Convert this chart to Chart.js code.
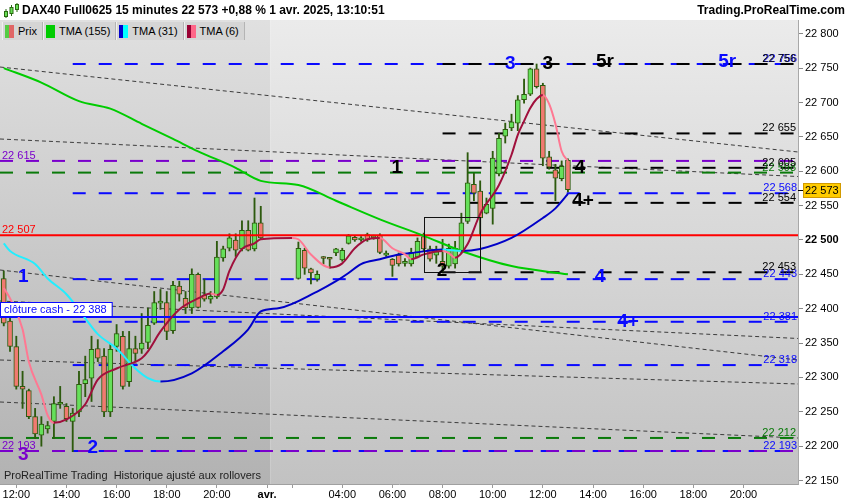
<!DOCTYPE html>
<html>
<head>
<meta charset="utf-8">
<title>DAX40 Full0625 15 minutes</title>
<script src="https://cdn.jsdelivr.net/npm/chart.js@4.4.1/dist/chart.umd.min.js"></script>
<style>
  html, body { margin: 0; padding: 0; background: #fff; }
  body { font-family: "Liberation Sans", Arial, sans-serif; }
  #wrap { position: relative; width: 850px; height: 500px; overflow: hidden; }
  #box { position: absolute; left: 0; top: 0; width: 850px; height: 500px; }
  .head { position: absolute; top: 3px; font-size: 12px; font-weight: bold; color: #000; white-space: nowrap; }
  #icon { position: absolute; left: 3px; top: 2px; }
  #legend { position: absolute; left: 2px; top: 22px; height: 18px; display: flex; }
  #legend div { display: flex; align-items: center; height: 18px; padding: 0 5px 0 2px; background: #d5d5d5;
    border-left: 1px solid #f0f0f0; border-right: 1px solid #b4b4b4; font-size: 11px; color: #000; }
  #legend i { display: inline-block; width: 9px; height: 13px; margin-right: 4px; }
  #note { position: absolute; left: 4px; top: 469px; font-size: 11px; color: #222; white-space: nowrap; }
</style>
</head>
<body>
<div id="wrap">
  <div id="box"><canvas id="chart"></canvas></div>
  <svg id="icon" width="17" height="17">
    <line x1="3" y1="7" x2="3" y2="16" stroke="#2a6a10"/>
    <rect x="1.5" y="9.5" width="3" height="5" fill="#66dd55" stroke="#2a6a10"/>
    <line x1="8.5" y1="3" x2="8.5" y2="14" stroke="#2a6a10"/>
    <rect x="7" y="5.5" width="3" height="6" fill="#66dd55" stroke="#2a6a10"/>
    <line x1="14" y1="1" x2="14" y2="10" stroke="#2a6a10"/>
    <rect x="12.5" y="2.5" width="3" height="5" fill="#66dd55" stroke="#2a6a10"/>
  </svg>
  <div class="head" style="left:22px">DAX40 Full0625 15 minutes 22 573 +0,88 % 1 avr. 2025, 13:10:51</div>
  <div class="head" style="right:5px">Trading.ProRealTime.com</div>
  <div id="legend">
    <div><i style="background:linear-gradient(90deg,#55cc44 50%,#e06666 50%)"></i>Prix</div>
    <div><i style="background:#00cc00"></i>TMA (155)</div>
    <div><i style="background:linear-gradient(90deg,#0000cc 50%,#00ffff 50%)"></i>TMA (31)</div>
    <div><i style="background:linear-gradient(90deg,#990033 50%,#ff6688 50%)"></i>TMA (6)</div>
  </div>
  <div id="note">ProRealTime Trading&nbsp; Historique ajusté aux rollovers</div>
</div>

<script>
Chart.defaults.font.family = '"Liberation Sans", Arial, sans-serif';

// 15 minute bars: 31 March from 11:30, 1 April from 01:00
const sessionStarts = ["11:30", "01:00"];
const sessionBars = [42, 85];
const dayBreak = 42.5;
const dayLabel = "avr.";
const xTicks = [2, 10, 18, 26, 34, 42, 46, 54, 62, 70, 78, 86, 94, 102, 110, 118];
const xTicksBlank = [46];
const priceTicks = [22150, 22200, 22250, 22300, 22350, 22400, 22450, 22500, 22550, 22600, 22650, 22700, 22750, 22800];

// candles (null = no bar)
const opens = [22444, 22382, 22345, 22287, 22281, 22243, 22216, 22225, 22236, 22261,
  22258, 22236, 22250, 22291, 22299, 22342, 22331, 22250, 22345, 22360,
  22294, 22342, 22341, 22351, 22379, 22408, 22409, 22368, 22433, 22415,
  22401, 22450, 22420, 22414, 22417, 22474, 22488, 22500, 22487, 22514,
  22487, 22525, null, null, null, null, null,
  22444, 22485, 22458, 22443, 22475, 22474, 22481, 22471, 22495, 22504,
  22500, 22508, 22503, 22507, 22478, 22472, 22478, 22466, 22465, 22475,
  22505, 22487, 22478, 22469, 22462, 22465, 22484, 22527, 22581, 22571,
  22539, 22546, 22596, 22651, 22663, 22670, 22704, 22712, 22749, 22725,
  22621, 22602, 22589, 22616];
const highs = [22455, 22389, 22360, 22309, 22283, 22255, 22243, 22236, 22272, 22287,
  22262, 22255, 22309, 22331, 22360, 22355, 22342, 22348, 22377, 22367,
  22367, 22360, 22393, 22401, 22425, 22428, 22425, 22440, 22440, 22425,
  22458, 22452, 22443, 22425, 22498, 22491, 22509, 22509, 22528, 22528,
  22561, 22549, null, null, null, null, null,
  22497, 22488, 22459, 22455, 22476, 22474, 22488, 22488, 22508, 22506,
  22505, 22510, 22507, 22509, 22484, 22473, 22481, 22473, 22488, 22503,
  22510, 22491, 22491, 22501, 22494, 22498, 22539, 22627, 22597, 22586,
  22561, 22629, 22655, 22670, 22683, 22710, 22734, 22750, 22756, 22728,
  22629, 22610, 22615, 22618];
const lows = [22375, 22338, 22283, 22255, 22240, 22211, 22200, 22219, 22211, 22255,
  22236, 22192, 22243, 22272, 22265, 22323, 22243, 22243, 22338, 22283,
  22287, 22323, 22335, 22342, 22377, 22399, 22355, 22364, 22411, 22393,
  22393, 22401, 22411, 22408, 22415, 22469, 22484, 22476, 22484, 22484,
  22484, 22501, null, null, null, null, null,
  22443, 22450, 22436, 22440, 22465, 22459, 22477, 22469, 22494, 22498,
  22498, 22498, 22501, 22480, 22476, 22447, 22462, 22462, 22462, 22474,
  22484, 22469, 22466, 22452, 22459, 22459, 22481, 22524, 22557, 22508,
  22538, 22523, 22593, 22641, 22659, 22659, 22699, 22710, 22721, 22608,
  22603, 22557, 22586, 22570];
const closes = [22379, 22345, 22287, 22283, 22243, 22218, 22232, 22230, 22262, 22262,
  22240, 22248, 22290, 22297, 22341, 22328, 22250, 22341, 22364, 22287,
  22342, 22335, 22350, 22376, 22409, 22411, 22367, 22434, 22421, 22401,
  22450, 22402, 22414, 22418, 22475, 22487, 22503, 22485, 22514, 22485,
  22525, 22503, null, null, null, null, null,
  22488, 22459, 22452, 22450, 22473, 22472, 22487, 22485, 22506, 22500,
  22503, 22500, 22505, 22482, 22481, 22463, 22465, 22469, 22482, 22498,
  22487, 22472, 22483, 22462, 22488, 22488, 22525, 22583, 22568, 22532,
  22552, 22619, 22648, 22661, 22672, 22704, 22712, 22749, 22723, 22619,
  22606, 22590, 22607, 22573];

// moving averages: [bar, value]
const tma155 = [[0, 22750], [6, 22729], [12, 22702], [17, 22691], [22, 22669], [27, 22647], [31, 22629],
  [37, 22605], [41, 22586], [47, 22580], [53, 22557], [60, 22530], [67, 22506], [73, 22484], [81, 22462], [90, 22450]];
const tma31 = [[0, 22495], [1, 22484], [5, 22465], [7, 22444], [10, 22421], [13, 22386], [15, 22363], [18, 22342],
  [21, 22313], [23, 22299], [25, 22294], [30, 22306], [35, 22338], [39, 22370], [41, 22396], [44, 22401],
  [50, 22425], [53, 22440], [55, 22452], [57, 22465], [60, 22472], [63, 22479], [65, 22481], [70, 22486],
  [73, 22484], [76, 22487], [81, 22503], [86, 22532], [88, 22546], [90, 22567]];
const tma6 = [[0, 22430], [1, 22415], [3, 22370], [4, 22323], [6, 22275], [7, 22245], [8, 22234], [10, 22239],
  [13, 22261], [15, 22297], [18, 22313], [22, 22328], [23, 22338], [25, 22367], [28, 22399], [31, 22415],
  [33, 22422], [34, 22420], [35, 22428], [36, 22455], [38, 22487], [40, 22495], [41, 22501], [46, 22503],
  [47, 22501], [49, 22479], [52, 22460], [54, 22466], [56, 22488], [58, 22501], [60, 22503], [62, 22488],
  [64, 22479], [65, 22472], [67, 22479], [70, 22484], [71, 22481], [72, 22474], [74, 22494], [76, 22538],
  [79, 22580], [81, 22624], [82, 22653], [83, 22673], [84, 22692], [85, 22705], [86, 22711], [87, 22698],
  [88, 22669], [89, 22629], [90, 22615]];

// horizontal levels
const blueLevels = [22756, 22568, 22443, 22381, 22318, 22193];
const blackLevels = [22756, 22655, 22605, 22554, 22453];
const greenLevels = [22598, 22212];
const purpleLevels = [22615, 22193];
const redLevel = 22507;
const cashClose = 22388;
const lastPrice = 22573;
const blueFrom = 11;
const blackFrom = 70;

// sloping trend lines, price at the left and right edge
const trendStarts = [22751.6, 22646.9, 22456.3, 22411.2, 22325.4, 22264.3];
const trendEnds = [22628.0, 22592.3, 22325.4, 22356.7, 22290.5, 22211.9];

// marked zone and wave labels
const zoneBars = [67, 76];
const zonePrices = [22533, 22453];
const notes = [
  ["1", 3.1, 22446, "blue"], ["2", 14.2, 22197, "blue"], ["3", 3.1, 22187, "purple"],
  ["3", 80.8, 22757, "blue"], ["3", 86.8, 22757, "black"], ["5r", 95.9, 22759, "black"], ["5r", 115.4, 22759, "blue"],
  ["1", 62.7, 22605, "black"], ["2", 69.9, 22455, "black"], ["4", 91.9, 22605, "black"], ["4+", 92.4, 22557, "black"],
  ["4", 95.1, 22446, "blue"], ["4+", 99.6, 22381, "blue"],
];

const colors = { blue: "#0a0aff", black: "#000000", green: "#0a7a0a", purple: "#7a00cc", red: "#ff0000" };
const xMin = -0.6, xMax = 126.7;

const fmt = v => String(Math.round(v)).replace(/(\d+)(\d{3})$/, "$1 $2");

// build the time labels of every bar
const times = [];
sessionStarts.forEach((s, k) => {
  const [h, m] = s.split(":").map(Number);
  let t = h * 60 + m;
  for (let i = 0; i < sessionBars[k]; i++, t += 15) {
    times.push(String(Math.floor(t / 60) % 24).padStart(2, "0") + ":" + String(t % 60).padStart(2, "0"));
  }
});

const bars = opens.map((o, i) => i).filter(i => opens[i] !== null);
const pts = list => list.map(([x, y]) => ({ x, y }));

function level(v, from, color, dash, width, order) {
  return {
    type: "line", data: [{ x: from, y: v }, { x: xMax, y: v }],
    borderColor: color, borderWidth: width, borderDash: dash, pointRadius: 0, order,
  };
}

const datasets = [
  {
    type: "line", data: pts(tma6), borderWidth: 2, pointRadius: 0, cubicInterpolationMode: "monotone", order: 0,
    borderColor: "#a0103c",
    segment: { borderColor: c => (c.p1.parsed.y < c.p0.parsed.y ? "#ff7892" : "#a0103c") },
  },
  {
    type: "line", data: pts(tma31), borderWidth: 2, pointRadius: 0, cubicInterpolationMode: "monotone", order: 0,
    borderColor: "#0000c8",
    segment: { borderColor: c => (c.p1.parsed.y < c.p0.parsed.y ? "#22eeff" : "#0000c8") },
  },
  {
    type: "line", data: pts(tma155), borderWidth: 2, pointRadius: 0, cubicInterpolationMode: "monotone", order: 0,
    borderColor: "#00cc00",
  },
  level(redLevel, xMin, colors.red, [], 2, 1),
  level(cashClose, xMin, colors.blue, [], 2, 1),
  {
    type: "bar", data: bars.map(i => ({ x: i, y: [opens[i], closes[i]] })),
    backgroundColor: bars.map(i => (closes[i] >= opens[i] ? "#66e05a" : "#f07a70")),
    borderColor: "#2d5a0e", borderWidth: 1, borderSkipped: false,
    barThickness: 5, minBarLength: 2, grouped: false, order: 2,
  },
  {
    type: "bar", data: bars.map(i => ({ x: i, y: [lows[i], highs[i]] })),
    backgroundColor: "#2d5a0e", barThickness: 1.2, grouped: false, order: 3,
  },
];
purpleLevels.forEach(v => datasets.push(level(v, xMin, colors.purple, [13, 13], 2, 4)));
greenLevels.forEach(v => datasets.push(level(v, xMin, colors.green, [13, 13], 2, 4)));
blackLevels.forEach(v => datasets.push(level(v, blackFrom, colors.black, [13, 13], 2, 4)));
blueLevels.forEach(v => datasets.push(level(v, blueFrom, colors.blue, [13, 13], 2, 4)));
trendStarts.forEach((s, k) => datasets.push({
  type: "line", data: [{ x: xMin, y: s }, { x: xMax, y: trendEnds[k] }],
  borderColor: "#3c3c3c", borderWidth: 1, borderDash: [4, 3], pointRadius: 0, order: 5,
}));

const backdrop = {
  id: "backdrop",
  beforeDraw(chart) {
    const { ctx, chartArea: a, scales: { x } } = chart;
    const sep = x.getPixelForValue(dayBreak);
    ctx.save();
    ctx.fillStyle = "#fff";
    ctx.fillRect(0, 0, chart.width, chart.height);
    let g = ctx.createLinearGradient(0, a.top, 0, a.bottom);
    g.addColorStop(0, "#e0e0e0");
    g.addColorStop(1, "#b2b2b2");
    ctx.fillStyle = g;
    ctx.fillRect(a.left, a.top, sep - a.left, a.bottom - a.top);
    g = ctx.createLinearGradient(0, a.top, 0, a.bottom);
    g.addColorStop(0, "#ebebeb");
    g.addColorStop(1, "#c2c2c2");
    ctx.fillStyle = g;
    ctx.fillRect(sep, a.top, a.right - sep, a.bottom - a.top);
    ctx.restore();
  },
};

const overlay = {
  id: "overlay",
  afterDatasetsDraw(chart) {
    const { ctx, chartArea: a, scales: { x, y } } = chart;
    ctx.save();
    // zone rectangle
    const x0 = Math.round(x.getPixelForValue(zoneBars[0])) + 0.5;
    const x1 = Math.round(x.getPixelForValue(zoneBars[1])) + 0.5;
    const y0 = Math.round(y.getPixelForValue(zonePrices[0])) + 0.5;
    const y1 = Math.round(y.getPixelForValue(zonePrices[1])) + 0.5;
    ctx.strokeStyle = "#111";
    ctx.lineWidth = 1;
    ctx.strokeRect(x0, y0, x1 - x0, y1 - y0);

    // level values, right side
    ctx.font = '11px "Liberation Sans", Arial, sans-serif';
    ctx.textBaseline = "alphabetic";
    ctx.textAlign = "right";
    const right = a.right - 2;
    greenLevels.forEach(v => { ctx.fillStyle = colors.green; ctx.fillText(fmt(v), right, y.getPixelForValue(v) - 2); });
    blueLevels.forEach(v => { ctx.fillStyle = colors.blue; ctx.fillText(fmt(v), right + 1, y.getPixelForValue(v) - 2); });
    blackLevels.forEach(v => { ctx.fillStyle = colors.black; ctx.fillText(fmt(v), right, y.getPixelForValue(v) - 2); });

    // level values, left side
    ctx.textAlign = "left";
    purpleLevels.forEach(v => { ctx.fillStyle = colors.purple; ctx.fillText(fmt(v), a.left + 2, y.getPixelForValue(v) - 2); });
    ctx.fillStyle = colors.red;
    ctx.fillText(fmt(redLevel), a.left + 2, y.getPixelForValue(redLevel) - 2);

    // cash close tag
    const cy = Math.round(y.getPixelForValue(cashClose));
    const tag = "clôture cash - " + fmt(cashClose);
    ctx.font = '11px "Liberation Sans", Arial, sans-serif';
    const w = ctx.measureText(tag).width + 9;
    ctx.fillStyle = "#fff";
    ctx.fillRect(a.left, cy - 15, w, 15);
    ctx.strokeStyle = colors.blue;
    ctx.strokeRect(a.left + 0.5, cy - 14.5, w, 14);
    ctx.fillStyle = colors.blue;
    ctx.fillText(tag, a.left + 4, cy - 4);

    // wave labels
    ctx.font = 'bold 19px "Liberation Sans", Arial, sans-serif';
    ctx.textAlign = "center";
    ctx.textBaseline = "middle";
    notes.forEach(([t, i, v, c]) => {
      ctx.fillStyle = colors[c];
      ctx.fillText(t, x.getPixelForValue(i), y.getPixelForValue(v));
    });
    ctx.restore();
  },
  afterDraw(chart) {
    const { ctx, chartArea: a, scales: { y } } = chart;
    const yc = Math.round(y.getPixelForValue(lastPrice));
    ctx.save();
    ctx.fillStyle = "#000";
    ctx.fillRect(a.right, yc, 5, 1);
    ctx.fillStyle = "#ffcc00";
    ctx.fillRect(a.right + 5, yc - 7, 38, 15);
    ctx.strokeStyle = "#d29a00";
    ctx.strokeRect(a.right + 5.5, yc - 6.5, 37, 14);
    ctx.fillStyle = "#000";
    ctx.font = '11px "Liberation Sans", Arial, sans-serif';
    ctx.textAlign = "left";
    ctx.textBaseline = "middle";
    ctx.fillText(fmt(lastPrice), a.right + 7, yc + 1);
    ctx.restore();
  },
};

new Chart(document.getElementById("chart"), {
  type: "bar",
  data: { datasets },
  options: {
    responsive: true,
    maintainAspectRatio: false,
    animation: false,
    events: [],
    layout: { padding: { top: 20, left: 0, right: 0, bottom: 0 } },
    plugins: { legend: { display: false }, tooltip: { enabled: false } },
    scales: {
      x: {
        type: "linear", min: xMin, max: xMax, offset: false,
        grid: { drawOnChartArea: false, offset: false, tickLength: 4, color: "#9a9a9a" },
        border: { color: "#a0a0a0" },
        afterBuildTicks: s => { s.ticks = xTicks.map(v => ({ value: v })); },
        afterFit: s => { s.height = 16; },
        ticks: {
          autoSkip: false, maxRotation: 0, padding: 0, color: "#000",
          callback: v => (v === 42 ? dayLabel : xTicksBlank.includes(v) ? "" : times[v]),
          font: c => ({ size: 11, weight: c.tick && c.tick.value === 42 ? "bold" : "normal" }),
        },
      },
      y: {
        position: "right", min: 22145, max: 22820,
        grid: { drawOnChartArea: false, tickLength: 5, color: "#888" },
        border: { color: "#a8a8a8" },
        afterBuildTicks: s => { s.ticks = priceTicks.map(v => ({ value: v })); },
        afterFit: s => { s.width = 52; },
        ticks: {
          padding: 2, color: "#000",
          callback: v => fmt(v),
          font: c => ({ size: 11, weight: c.tick && c.tick.value === 22500 ? "bold" : "normal" }),
        },
      },
    },
  },
  plugins: [backdrop, overlay],
});
</script>
</body>
</html>
